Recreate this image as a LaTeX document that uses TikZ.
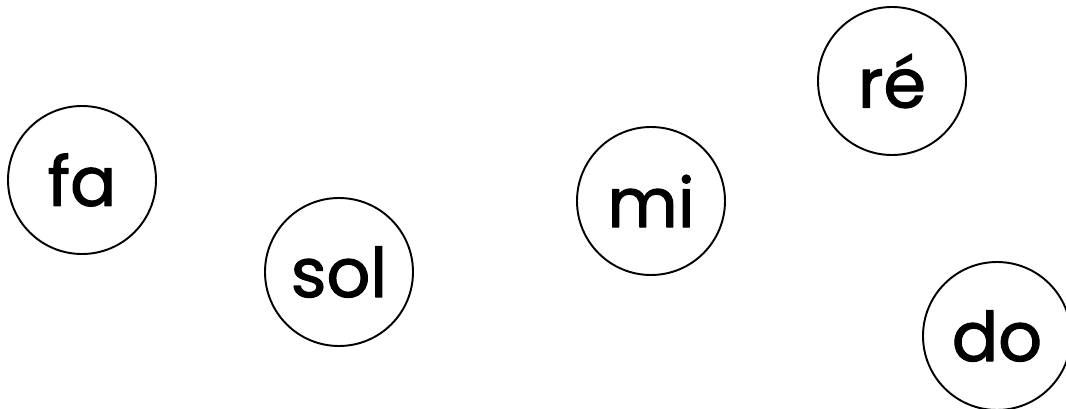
\documentclass[tikz,border=0pt]{standalone}
\usepackage{fontspec}
\setmainfont{Poppins}
\newfontfamily\notefont{Poppins}[FakeBold=1.6]
\usepackage{tikz}
\usetikzlibrary{positioning}
\tikzset{
    every picture/.style={line cap=round,line join=round},
    notecircle/.style={draw=black,circle,line width=1.1pt,
      minimum size=29.6mm,inner sep=0pt,
      font=\notefont\fontsize{39}{44}\selectfont}
}
\begin{document}
\begin{tikzpicture}[x=0.2mm,y=-0.2mm]
  \useasboundingbox (0,0) rectangle (1066,409);
  \node[notecircle] (fa)  at (82,180)  {fa};
  \node[notecircle] (sol) at (339,272) {sol};
  \node[notecircle] (mi)  at (651,201) {mi};
  \node[notecircle] (re)  at (892,81)  {ré};
  \node[notecircle] (do)  at (997,336) {do};
\end{tikzpicture}
\end{document}
